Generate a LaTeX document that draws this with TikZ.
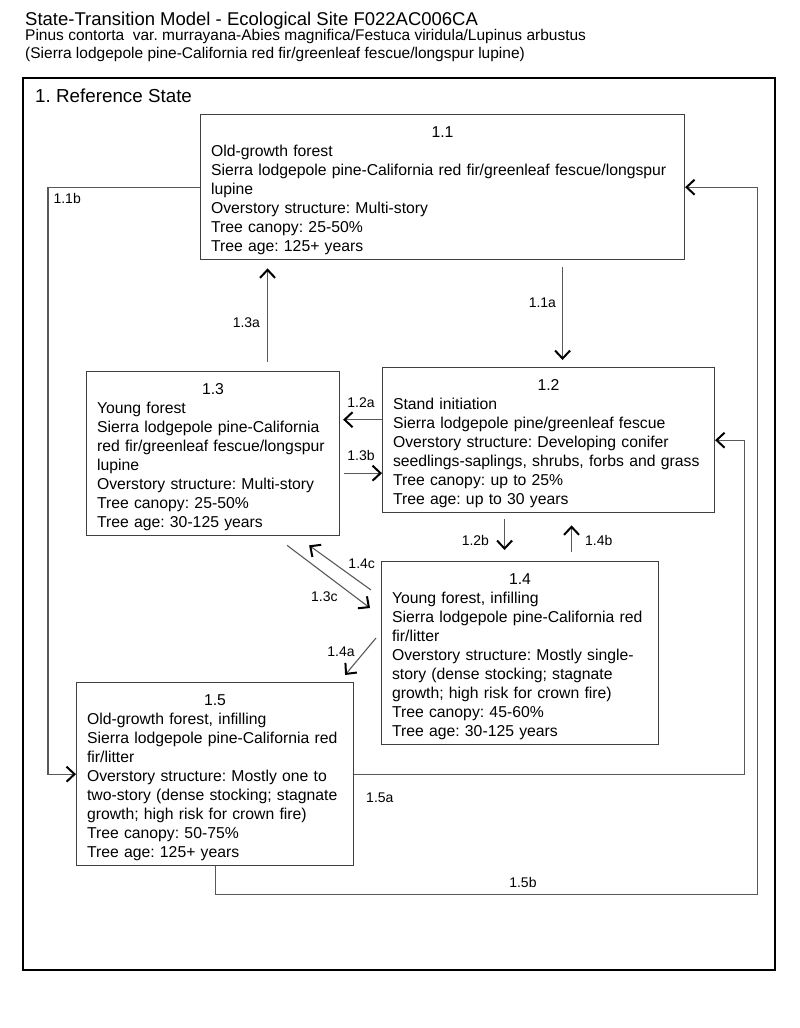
\documentclass[tikz,border=0pt]{standalone}
\usepackage{fontspec}
\setmainfont{Liberation Sans}
\usetikzlibrary{arrows.meta}
\frenchspacing

\newcommand{\statehead}[1]{\rule{0pt}{18pt}\hfill#1\hfill\mbox{}\\}

\begin{document}
\begin{tikzpicture}[
    x=1pt,y=-1pt,
    state/.style={draw=black!75,line width=1.1pt,anchor=north west,align=left,
      inner xsep=10.5pt,inner ysep=5pt,font=\fontsize{15.75}{19}\selectfont},
    lbl/.style={inner sep=1pt,font=\fontsize{14}{16}\selectfont},
    link/.style={draw=black!65,line width=1.1pt,->},
    >={Straight Barb[length=8pt,width=15pt,line width=2pt,color=black]}
  ]
  \useasboundingbox (0,0) rectangle (800,1028);

  % Title lines
  \node[anchor=base west,inner sep=0pt,font=\fontsize{18.5}{22}\selectfont] (title) at (25,25) {State-Transition Model - Ecological Site F022AC006CA};
  \node[anchor=base west,inner sep=0pt,font=\fontsize{15.5}{18}\selectfont] (sub1) at (25,40) {Pinus contorta\ \ var. murrayana-Abies magnifica/Festuca viridula/Lupinus arbustus};
  \node[anchor=base west,inner sep=0pt,font=\fontsize{15.5}{18}\selectfont] (sub2) at (25,58) {(Sierra lodgepole pine-California red fir/greenleaf fescue/longspur lupine)};

  % Reference state frame
  \draw[line width=2pt] (23,78) rectangle (775,970);
  \node[anchor=base west,inner sep=0pt,font=\fontsize{18.8}{22}\selectfont] (ref) at (35,102) {1. Reference State};

  % Community phases
  \node[state,text width=463pt] (b11) at (200,114) {\statehead{1.1}
    Old-growth forest\\
    Sierra lodgepole pine-California red fir/greenleaf fescue/longspur\\
    lupine\\
    Overstory structure: Multi-story\\
    Tree canopy: 25-50\%\\
    Tree age: 125+ years};
  \node[state,text width=311pt] (b12) at (382,367) {\statehead{1.2}
    Stand initiation\\
    Sierra lodgepole pine/greenleaf fescue\\
    Overstory structure: Developing conifer\\
    seedlings-saplings, shrubs, forbs and grass\\
    Tree canopy: up to 25\%\\
    Tree age: up to 30 years};
  \node[state,text width=232pt] (b13) at (86,371) {\statehead{1.3}
    Young forest\\
    Sierra lodgepole pine-California\\
    red fir/greenleaf fescue/longspur\\
    lupine\\
    Overstory structure: Multi-story\\
    Tree canopy: 25-50\%\\
    Tree age: 30-125 years};
  \node[state,text width=256pt] (b14) at (381,561) {\statehead{1.4}
    Young forest, infilling\\
    Sierra lodgepole pine-California red\\
    fir/litter\\
    Overstory structure: Mostly single-\\
    story (dense stocking; stagnate\\
    growth; high risk for crown fire)\\
    Tree canopy: 45-60\%\\
    Tree age: 30-125 years};
  \node[state,text width=256pt] (b15) at (76,682) {\statehead{1.5}
    Old-growth forest, infilling\\
    Sierra lodgepole pine-California red\\
    fir/litter\\
    Overstory structure: Mostly one to\\
    two-story (dense stocking; stagnate\\
    growth; high risk for crown fire)\\
    Tree canopy: 50-75\%\\
    Tree age: 125+ years};

  % Transitions between phases
  \draw[link,shorten <=7pt,shorten >=7pt] ([xshift=120pt]b11.south) -- ([xshift=120pt]b11.south |- b12.north)
    node[lbl,pos=0.4,left=5pt] {1.1a};
  \draw[link,shorten <=9pt,shorten >=8pt] ([xshift=54.5pt]b13.north) -- ([xshift=54.5pt]b13.north |- b11.south)
    node[lbl,pos=0.44,left=6pt] {1.3a};
  \draw[link,shorten >=3pt] ([yshift=20.5pt]b12.west) -- ([yshift=20.5pt]b12.west -| b13.east)
    node[lbl,midway,above=11pt] {1.2a};
  \draw[link,shorten <=4pt] ([yshift=-19.5pt]b13.east) -- ([yshift=-19.5pt]b13.east -| b12.west)
    node[lbl,midway,above=11pt] {1.3b};
  \draw[link,shorten <=6pt,shorten >=11pt] ([xshift=-44pt]b12.south) -- ([xshift=-44pt]b12.south |- b14.north)
    node[lbl,pos=0.57,left=14pt] {1.2b};
  \draw[link,shorten <=9pt,shorten >=12pt] ([xshift=51.5pt]b14.north) -- ([xshift=51.5pt]b14.north |- b12.south)
    node[lbl,pos=0.43,right=12pt] {1.4b};
  \draw[link] ([xshift=-10pt,yshift=-29pt]b14.north west) -- ([xshift=-31pt,yshift=-9pt]b13.south east)
    node[lbl,pos=0.15,above=13pt] {1.4c};
  \draw[link] ([xshift=-53pt,yshift=-9pt]b13.south east) -- ([xshift=-11pt,yshift=-47pt]b14.north west)
    node[lbl,pos=0.45,below=17pt] {1.3c};
  \draw[link] ([xshift=-5pt,yshift=-77pt]b14.north west) -- ([xshift=-9pt,yshift=7pt]b15.north east)
    node[lbl,pos=0.38,left=8pt] {1.4a};

  % Long loops round the frame
  \draw[link] (b11.west) -- ++(-152,0)
    node[lbl,pos=1,anchor=north west,xshift=4pt,yshift=-5pt] {1.1b} |- (b15.west);
  \draw[link] (b15.east) -| node[lbl,pos=0.033,below=17pt] {1.5a} ([xshift=29pt]b12.east) -- (b12.east);
  \draw[link] (b15.south) -- ++(0,28) -| node[lbl,pos=0.284,above=5pt] {1.5b} ([xshift=72pt]b11.east) -- (b11.east);
\end{tikzpicture}
\end{document}
